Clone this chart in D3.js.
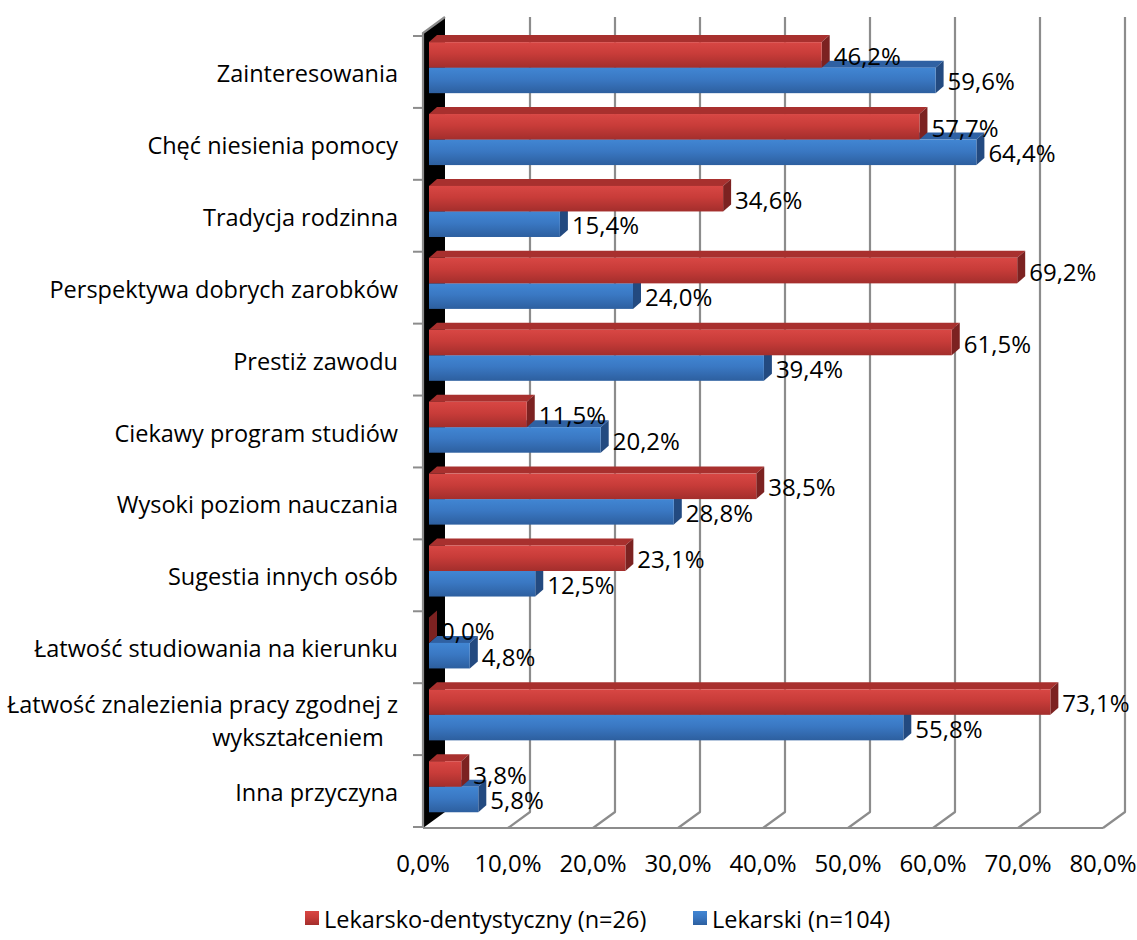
<!DOCTYPE html>
<html>
<head>
<meta charset="utf-8">
<script src="https://cdn.jsdelivr.net/npm/d3@7/dist/d3.min.js"></script>
<style>
  html, body { margin: 0; padding: 0; background: #fff; }
  svg { display: block; }
  text { font-family: "Open Sans", "Noto Sans", sans-serif; fill: #000; }
</style>
</head>
<body>
<svg id="chart" width="1137" height="940"></svg>
<script>
// ---- data ----
const categories = [
  "Zainteresowania",
  "Chęć niesienia pomocy",
  "Tradycja rodzinna",
  "Perspektywa dobrych zarobków",
  "Prestiż zawodu",
  "Ciekawy program studiów",
  "Wysoki poziom nauczania",
  "Sugestia innych osób",
  "Łatwość studiowania na kierunku",
  "Łatwość znalezienia pracy zgodnej z wykształceniem",
  "Inna przyczyna"
];
const seriesNames = ["Lekarsko-dentystyczny (n=26)", "Lekarski (n=104)"];
const dentValues = [46.2, 57.7, 34.6, 69.2, 61.5, 11.5, 38.5, 23.1, 0.0, 73.1, 3.8];
const lekValues  = [59.6, 64.4, 15.4, 24.0, 39.4, 20.2, 28.8, 12.5, 4.8, 55.8, 5.8];
const tickValues = [0, 10, 20, 30, 40, 50, 60, 70, 80];

// ---- layout ----
const svg = d3.select("#chart");
const fmt = v => d3.format(".1f")(v).replace(".", ",") + "%";

const frontTop = 33, frontBottom = 828;
const depthDX = 22, depthDY = -16;            // wall / floor depth
const barDX = 8, barDY = -7;                  // bar depth
const x = d3.scaleLinear().domain([0, 80]).range([423, 1103]);
const barShift = 6;                           // bars sit slightly behind the front plane
const y = d3.scaleBand().domain(categories).range([36, 827]).paddingInner(0).paddingOuter(0);
const ySeries = d3.scaleBand().domain([0, 1])
  .range([y.bandwidth() * 0.085, y.bandwidth() * 0.795]);

const colors = {
  red:  { top: "#a8302e", side: "#7c2221", g: ["#d84744", "#c83c39", "#a32e2c"] },
  blue: { top: "#2f61a3", side: "#234a80", g: ["#4186d3", "#3a78c3", "#2d5f9f"] }
};

const defs = svg.append("defs");
for (const key of ["red", "blue"]) {
  const lg = defs.append("linearGradient").attr("id", "grad-" + key)
    .attr("x1", 0).attr("y1", 0).attr("x2", 0).attr("y2", 1);
  lg.append("stop").attr("offset", "0%").attr("stop-color", colors[key].g[0]);
  lg.append("stop").attr("offset", "45%").attr("stop-color", colors[key].g[1]);
  lg.append("stop").attr("offset", "100%").attr("stop-color", colors[key].g[2]);
}

// ---- walls / gridlines ----
const grid = svg.append("g");
grid.append("path")
  .attr("d", `M${x(0)},${frontTop} L${x(0) + depthDX},${frontTop + depthDY} L${x(0) + depthDX},${frontBottom + depthDY} L${x(0)},${frontBottom} Z`)
  .attr("fill", "#000");
tickValues.slice(1).forEach(t => {
  const bx = x(t) + depthDX;
  grid.append("path")
    .attr("d", `M${bx},${frontTop + depthDY} L${bx},${frontBottom + depthDY} L${x(t)},${frontBottom}`)
    .attr("fill", "none").attr("stroke", "#8c8c8c").attr("stroke-width", 2.2)
    .attr("stroke-linejoin", "round");
});
grid.append("line").attr("x1", x(0)).attr("x2", x(80)).attr("y1", frontBottom).attr("y2", frontBottom)
  .attr("stroke", "#8c8c8c").attr("stroke-width", 2.2);
grid.append("path")
  .attr("d", `M${x(0) + depthDX},${frontTop + depthDY} L${x(0)},${frontTop} L${x(0)},${frontBottom}`)
  .attr("fill", "none").attr("stroke", "#8c8c8c").attr("stroke-width", 2.2);
const bounds = categories.map(c => y(c)).concat([y.range()[1]]);
grid.selectAll(".ctick").data(bounds).join("line")
  .attr("x1", x(0) - 10).attr("x2", x(0))
  .attr("y1", d => d).attr("y2", d => d)
  .attr("stroke", "#8c8c8c").attr("stroke-width", 2);

// ---- bars ----
function drawBar(g, x0, x1, y0, y1, key) {
  const c = colors[key];
  g.append("path")
    .attr("d", `M${x0},${y0} L${x0 + barDX},${y0 + barDY} L${x1 + barDX},${y0 + barDY} L${x1},${y0} Z`)
    .attr("fill", c.top);
  g.append("path")
    .attr("d", `M${x1},${y0} L${x1 + barDX},${y0 + barDY} L${x1 + barDX},${y1 + barDY} L${x1},${y1} Z`)
    .attr("fill", c.side);
  if (x1 > x0) {
    g.append("rect").attr("x", x0).attr("y", y0).attr("width", x1 - x0).attr("height", y1 - y0)
      .attr("fill", `url(#grad-${key})`);
  }
}

const bars = svg.append("g");
const labels = [];
categories.forEach((cat, i) => {
  const g = bars.append("g");
  const sets = [
    { v: lekValues[i], s: 1, key: "blue" },
    { v: dentValues[i], s: 0, key: "red" }
  ];
  sets.forEach(d => {
    const y0 = y(cat) + ySeries(d.s);
    const y1 = y0 + ySeries.bandwidth();
    const x0 = x(0) + barShift;
    const x1 = x(d.v) + barShift;
    drawBar(g, x0, x1, y0, y1, d.key);
    labels.push({ x: x1 + barDX + 4, y: (y0 + y1) / 2 + 0.5, t: fmt(d.v) });
  });
});

// ---- data labels ----
svg.append("g").selectAll("text").data(labels).join("text")
  .attr("x", d => d.x).attr("y", d => d.y)
  .attr("dominant-baseline", "central")
  .style("font-size", "24px")
  .text(d => d.t);

// ---- category labels ----
const catG = svg.append("g");
categories.forEach(cat => {
  const cy = y(cat) + y.bandwidth() / 2 + 1;
  if (cat.startsWith("Łatwość znalezienia")) {
    catG.append("text").attr("x", 398).attr("y", cy - 16).attr("text-anchor", "end")
      .attr("dominant-baseline", "central").style("font-size", "23.5px")
      .text("Łatwość znalezienia pracy zgodnej z");
    catG.append("text").attr("x", 298).attr("y", cy + 17).attr("text-anchor", "middle")
      .attr("dominant-baseline", "central").style("font-size", "23.5px")
      .text("wykształceniem");
  } else {
    catG.append("text").attr("x", 398).attr("y", cy).attr("text-anchor", "end")
      .attr("dominant-baseline", "central").style("font-size", "23.5px")
      .text(cat);
  }
});

// ---- x tick labels ----
svg.append("g").selectAll("text").data(tickValues).join("text")
  .attr("x", d => x(d)).attr("y", 862)
  .attr("text-anchor", "middle").attr("dominant-baseline", "central")
  .style("font-size", "24px")
  .text(d => fmt(d));

// ---- legend ----
const legend = svg.append("g");
const legendItems = [
  { name: seriesNames[0], key: "red", x: 305 },
  { name: seriesNames[1], key: "blue", x: 693 }
];
legendItems.forEach(it => {
  legend.append("rect").attr("x", it.x).attr("y", 911).attr("width", 14).attr("height", 14)
    .attr("fill", `url(#grad-${it.key})`);
  legend.append("text").attr("x", it.x + 19).attr("y", 919)
    .attr("dominant-baseline", "central").style("font-size", "23.5px")
    .text(it.name);
});
</script>
</body>
</html>
